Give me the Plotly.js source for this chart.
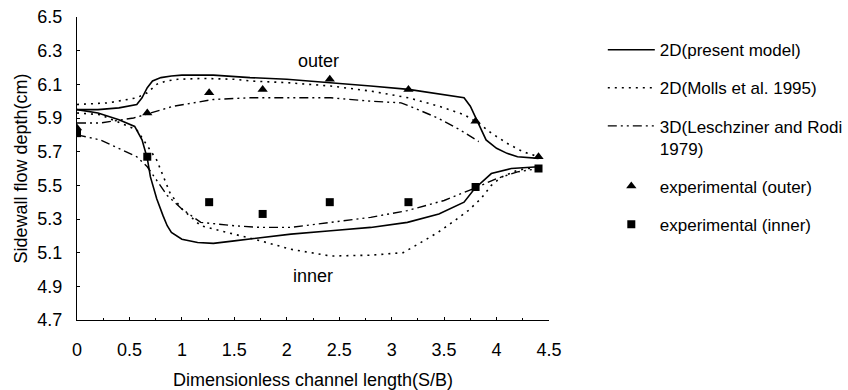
<!DOCTYPE html>
<html><head><meta charset="utf-8">
<script src="https://cdn.plot.ly/plotly-3.0.1.min.js"></script>
<style>html,body{margin:0;padding:0;background:#fff}#chart{width:848px;height:390px}</style>
</head><body><div id="chart"></div>
<script>
// 2D (present model)
const presentOuterX = [0, 0.2, 0.4, 0.57, 0.62, 0.67, 0.72, 0.8, 0.9, 1.0, 1.3, 1.65, 2.0, 2.42, 2.8, 3.16, 3.5, 3.69, 3.75, 3.8, 3.9, 4.0, 4.1, 4.2, 4.4];
const presentOuterY = [5.95, 5.95, 5.96, 5.98, 6.02, 6.08, 6.12, 6.14, 6.15, 6.155, 6.155, 6.14, 6.13, 6.11, 6.09, 6.07, 6.04, 6.02, 5.97, 5.90, 5.77, 5.72, 5.69, 5.67, 5.66];
const presentInnerX = [0, 0.2, 0.4, 0.55, 0.62, 0.67, 0.7, 0.76, 0.82, 0.86, 0.9, 1.0, 1.15, 1.3, 1.5, 1.75, 2.04, 2.42, 2.8, 3.15, 3.45, 3.69, 3.79, 3.95, 4.14, 4.4];
const presentInnerY = [5.95, 5.93, 5.89, 5.85, 5.77, 5.66, 5.55, 5.42, 5.32, 5.26, 5.22, 5.18, 5.16, 5.155, 5.17, 5.19, 5.21, 5.23, 5.25, 5.28, 5.33, 5.40, 5.48, 5.57, 5.60, 5.61];
// 2D (Molls et al. 1995)
const mollsOuterX = [0, 0.3, 0.57, 0.67, 0.76, 0.85, 0.96, 1.2, 1.5, 1.65, 2.0, 2.42, 2.8, 3.16, 3.45, 3.69, 3.85, 3.95, 4.1, 4.25, 4.4];
const mollsOuterY = [5.98, 5.99, 6.02, 6.05, 6.10, 6.12, 6.13, 6.135, 6.13, 6.12, 6.11, 6.09, 6.06, 6.02, 5.97, 5.92, 5.86, 5.81, 5.75, 5.70, 5.67];
const mollsInnerX = [0, 0.22, 0.57, 0.76, 0.89, 1.0, 1.18, 1.5, 1.75, 2.04, 2.42, 2.8, 3.11, 3.25, 3.44, 3.6, 3.73, 3.85, 3.95, 4.05, 4.2, 4.4];
const mollsInnerY = [5.93, 5.92, 5.83, 5.65, 5.45, 5.36, 5.26, 5.21, 5.17, 5.12, 5.08, 5.085, 5.10, 5.15, 5.22, 5.29, 5.35, 5.42, 5.50, 5.55, 5.59, 5.61];
// 3D (Leschziner and Rodi 1979)
const leschOuterX = [0, 0.22, 0.54, 0.7, 0.92, 1.3, 1.65, 1.97, 2.42, 2.8, 3.09, 3.25, 3.44, 3.65, 3.83];
const leschOuterY = [5.87, 5.87, 5.90, 5.93, 5.97, 6.01, 6.02, 6.02, 6.02, 6.00, 5.99, 5.95, 5.90, 5.83, 5.76];
const leschInnerX = [0, 0.22, 0.57, 0.67, 0.86, 1.0, 1.18, 1.5, 1.75, 2.04, 2.42, 2.8, 3.15, 3.5, 3.78, 4.0, 4.2, 4.4];
const leschInnerY = [5.80, 5.77, 5.67, 5.61, 5.44, 5.36, 5.28, 5.26, 5.25, 5.25, 5.28, 5.31, 5.35, 5.41, 5.48, 5.54, 5.58, 5.60];
// Experimental
const expX = [0, 0.67, 1.26, 1.77, 2.41, 3.16, 3.80, 4.40];
const expOuterY = [5.84, 5.93, 6.05, 6.07, 6.13, 6.07, 5.88, 5.67];
const expInnerY = [5.81, 5.67, 5.40, 5.33, 5.40, 5.40, 5.49, 5.60];

const seriesNames = ['2D(present model)', '2D(Molls et al. 1995)', '3D(Leschziner and Rodi<br>1979)', 'experimental (outer)', 'experimental (inner)'];
const xTicks = [0, 0.5, 1, 1.5, 2, 2.5, 3, 3.5, 4, 4.5];
const yTicks = [4.7, 4.9, 5.1, 5.3, 5.5, 5.7, 5.9, 6.1, 6.3, 6.5];

const join = (a, b) => a.concat([null], b);
const FONT = 'Liberation Sans, Arial, Helvetica, sans-serif';

const traces = [
  {x: join(presentOuterX, presentInnerX), y: join(presentOuterY, presentInnerY), mode: 'lines', name: seriesNames[0], legendgroup: 'a',
   line: {color: '#000', width: 1.6, dash: 'solid'}, connectgaps: false},
  {x: join(mollsOuterX, mollsInnerX), y: join(mollsOuterY, mollsInnerY), mode: 'lines', name: seriesNames[1], legendgroup: 'b',
   line: {color: '#000', width: 1.6, dash: '2px,5px'}, connectgaps: false},
  {x: join(leschOuterX, leschInnerX), y: join(leschOuterY, leschInnerY), mode: 'lines', name: seriesNames[2], legendgroup: 'c',
   line: {color: '#000', width: 1.4, dash: '9px,4px,2px,4px,2px,4px'}, connectgaps: false},
  {x: expX, y: expOuterY, mode: 'markers', name: seriesNames[3], legendgroup: 'd',
   marker: {symbol: 'triangle-up', size: 9, color: '#000'}},
  {x: expX, y: expInnerY, mode: 'markers', name: seriesNames[4], legendgroup: 'e',
   marker: {symbol: 'square', size: 8, color: '#000'}}
];

const layout = {
  width: 848, height: 390,
  margin: {l: 77, r: 299, t: 17, b: 70, autoexpand: false},
  paper_bgcolor: '#fff', plot_bgcolor: '#fff',
  font: {family: FONT, size: 17, color: '#000'},
  showlegend: true,
  legend: {x: 1.114, xanchor: 'left', y: 0.95, yanchor: 'top', valign: 'top', itemwidth: 47,
    tracegroupgap: 13, font: {family: FONT, size: 17, color: '#000'}, bgcolor: 'rgba(0,0,0,0)'},
  xaxis: {range: [0, 4.5], tickvals: xTicks, ticktext: xTicks.map(String), automargin: false,
    showline: true, linecolor: '#000', linewidth: 1, showgrid: false, zeroline: false,
    ticks: 'inside', ticklen: 3, tickcolor: '#000', ticklabelstandoff: 13,
    minor: {ticks: 'inside', ticklen: 2, dtick: 0.25, tickcolor: '#000'},
    tickfont: {family: FONT, size: 18},
    title: {text: 'Dimensionless channel length(S/B)', font: {family: FONT, size: 18}, standoff: 14}},
  yaxis: {range: [4.7, 6.5], tickvals: yTicks, ticktext: yTicks.map(v => v.toFixed(1)), automargin: false,
    showline: true, linecolor: '#000', linewidth: 1, showgrid: false, zeroline: false,
    ticks: 'inside', ticklen: 3, tickcolor: '#000', ticklabelstandoff: 10,
    tickfont: {family: FONT, size: 18},
    title: {text: 'Sidewall flow depth(cm)', font: {family: FONT, size: 18}, standoff: 5}},
  annotations: [
    {x: 2.3, y: 6.24, xref: 'x', yref: 'y', text: 'outer', showarrow: false, font: {family: FONT, size: 18}},
    {x: 2.25, y: 4.96, xref: 'x', yref: 'y', text: 'inner', showarrow: false, font: {family: FONT, size: 18}}
  ]
};

Plotly.newPlot('chart', traces, layout, {staticPlot: true, displayModeBar: false});
</script>
</body></html>
